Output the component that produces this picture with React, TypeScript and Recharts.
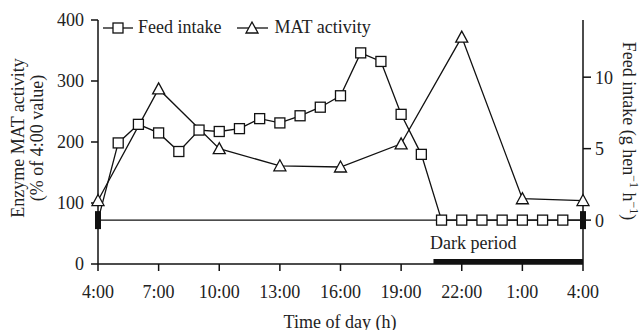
import React from 'react';
import { ComposedChart, Line, XAxis, YAxis, ReferenceLine, ReferenceArea } from 'recharts';

// hours after 4:00
const hours = [0, 1, 2, 3, 4, 5, 6, 7, 8, 9, 10, 11, 12, 13, 14, 15, 16, 17, 18, 19, 20, 21, 22, 23, 24];
const hourTicks = [0, 3, 6, 9, 12, 15, 18, 21, 24];
const hourTickLabels = ['4:00', '7:00', '10:00', '13:00', '16:00', '19:00', '22:00', '1:00', '4:00'];

// g hen-1 h-1
const feedIntake = [0, 5.4, 6.7, 6.1, 4.8, 6.3, 6.2, 6.4, 7.1, 6.8, 7.3, 7.9, 8.7, 11.7, 11.1, 7.4, 4.6, 0, 0, 0, 0, 0, 0, 0, 0];

// % of 4:00 value
const matHours = [0, 3, 6, 9, 12, 15, 18, 21, 24];
const matActivity = [104, 287, 189, 161, 159, 197, 372, 107, 104];

const matTicks = [0, 100, 200, 300, 400];
const feedTicks = [0, 5, 10];
const darkPeriod = [16.6, 24];

const data = hours.map((h, i) => {
  const k = matHours.indexOf(h);
  return { hour: h, feed: feedIntake[i], mat: k >= 0 ? matActivity[k] : null };
});

const FONT = '"Liberation Serif", "Times New Roman", serif';
const FS = 18;
const tickStyle = { fontSize: FS, fill: '#222', fontFamily: FONT };

if (typeof document !== 'undefined') document.body.style.margin = '0';

const SquareDot = (props: any) => {
  const { cx, cy, index } = props;
  if (cx == null || cy == null) return null;
  if (index === 0 || index === hours.length - 1) {
    return <rect key={index} x={cx - 3} y={cy - 9} width={6} height={18} fill="#111" />;
  }
  return <rect key={index} x={cx - 5} y={cy - 5} width={10} height={10} fill="#fff" stroke="#111" strokeWidth={1.3} />;
};

const TriangleDot = (props: any) => {
  const { cx, cy, index } = props;
  if (cx == null || cy == null) return null;
  return (
    <polygon
      key={index}
      points={`${cx},${cy - 6} ${cx - 6},${cy + 5} ${cx + 6},${cy + 5}`}
      fill="#fff"
      stroke="#111"
      strokeWidth={1.3}
    />
  );
};

const Legend = () => (
  <div style={{ position: 'absolute', left: 100, top: 17, fontFamily: FONT, fontSize: FS, color: '#222', display: 'flex', alignItems: 'center', whiteSpace: 'nowrap' }}>
    <svg width={36} height={20}>
      <line x1={3} y1={10} x2={33} y2={10} stroke="#111" strokeWidth={1.3} />
      <rect x={13} y={5} width={10} height={10} fill="#fff" stroke="#111" strokeWidth={1.3} />
    </svg>
    <span style={{ marginLeft: 2, marginRight: 16 }}>Feed intake</span>
    <svg width={36} height={20}>
      <line x1={0} y1={10} x2={31} y2={10} stroke="#111" strokeWidth={1.3} />
      <polygon points="15,4 9,15 21,15" fill="#fff" stroke="#111" strokeWidth={1.3} />
    </svg>
    <span style={{ marginLeft: 1 }}>MAT activity</span>
  </div>
);

const rotated = (cx: number, cy: number, deg: number): React.CSSProperties => ({
  position: 'absolute',
  left: cx,
  top: cy,
  transform: `translate(-50%, -50%) rotate(${deg}deg)`,
  fontFamily: FONT,
  fontSize: FS,
  color: '#222',
  whiteSpace: 'nowrap',
  lineHeight: '19px',
  textAlign: 'center',
});

export default function App() {
  return (
    <div style={{ position: 'relative', width: 641, height: 330, background: '#fff' }}>
      <ComposedChart width={641} height={330} data={data} margin={{ top: 20, right: 0, bottom: 0, left: 0 }}>
        <XAxis
          dataKey="hour"
          type="number"
          domain={[0, 24]}
          ticks={hourTicks}
          tickFormatter={(v: number) => hourTickLabels[hourTicks.indexOf(v)]}
          tick={tickStyle}
          tickSize={7}
          tickMargin={14}
          height={66}
          axisLine={{ stroke: '#111', strokeWidth: 1.5 }}
          tickLine={{ stroke: '#111', strokeWidth: 1.5 }}
        />
        <YAxis
          yAxisId="left"
          domain={[0, 400]}
          ticks={matTicks}
          tick={tickStyle}
          tickSize={7}
          tickMargin={7}
          width={98}
          axisLine={{ stroke: '#111', strokeWidth: 1.5 }}
          tickLine={{ stroke: '#111', strokeWidth: 1.5 }}
        />
        <YAxis
          yAxisId="right"
          orientation="right"
          domain={[-3.07, 14]}
          ticks={feedTicks}
          tick={tickStyle}
          tickSize={8}
          tickMargin={4}
          width={58}
          axisLine={{ stroke: '#111', strokeWidth: 1.5 }}
          tickLine={{ stroke: '#111', strokeWidth: 1.5 }}
        />
        <ReferenceLine yAxisId="right" y={0} stroke="#111" strokeWidth={1.3} />
        <ReferenceArea
          yAxisId="left"
          x1={darkPeriod[0]}
          x2={darkPeriod[1]}
          y1={0}
          y2={8}
          fill="#111"
          fillOpacity={1}
          stroke="none"
          label={{ value: 'Dark period', position: 'top', offset: 10, dx: -35, style: { fontSize: FS, fill: '#222', fontFamily: FONT } }}
        />
        <Line
          yAxisId="left"
          dataKey="mat"
          stroke="#111"
          strokeWidth={1.3}
          connectNulls
          dot={TriangleDot}
          isAnimationActive={false}
        />
        <Line
          yAxisId="right"
          dataKey="feed"
          stroke="#111"
          strokeWidth={1.3}
          dot={SquareDot}
          isAnimationActive={false}
        />
      </ComposedChart>
      <Legend />
      <div style={rotated(28, 138, -90)}>
        Enzyme MAT activity
        <br />
        (% of 4:00 value)
      </div>
      <div style={rotated(628, 131, 90)}>
        Feed intake (g hen<sup style={{ fontSize: 12, lineHeight: 0 }}>−1</sup> h<sup style={{ fontSize: 12, lineHeight: 0 }}>−1</sup>)
      </div>
      <div style={{ position: 'absolute', left: 340, top: 322, transform: 'translate(-50%, -50%)', fontFamily: FONT, fontSize: FS, color: '#222', whiteSpace: 'nowrap' }}>
        Time of day (h)
      </div>
    </div>
  );
}
